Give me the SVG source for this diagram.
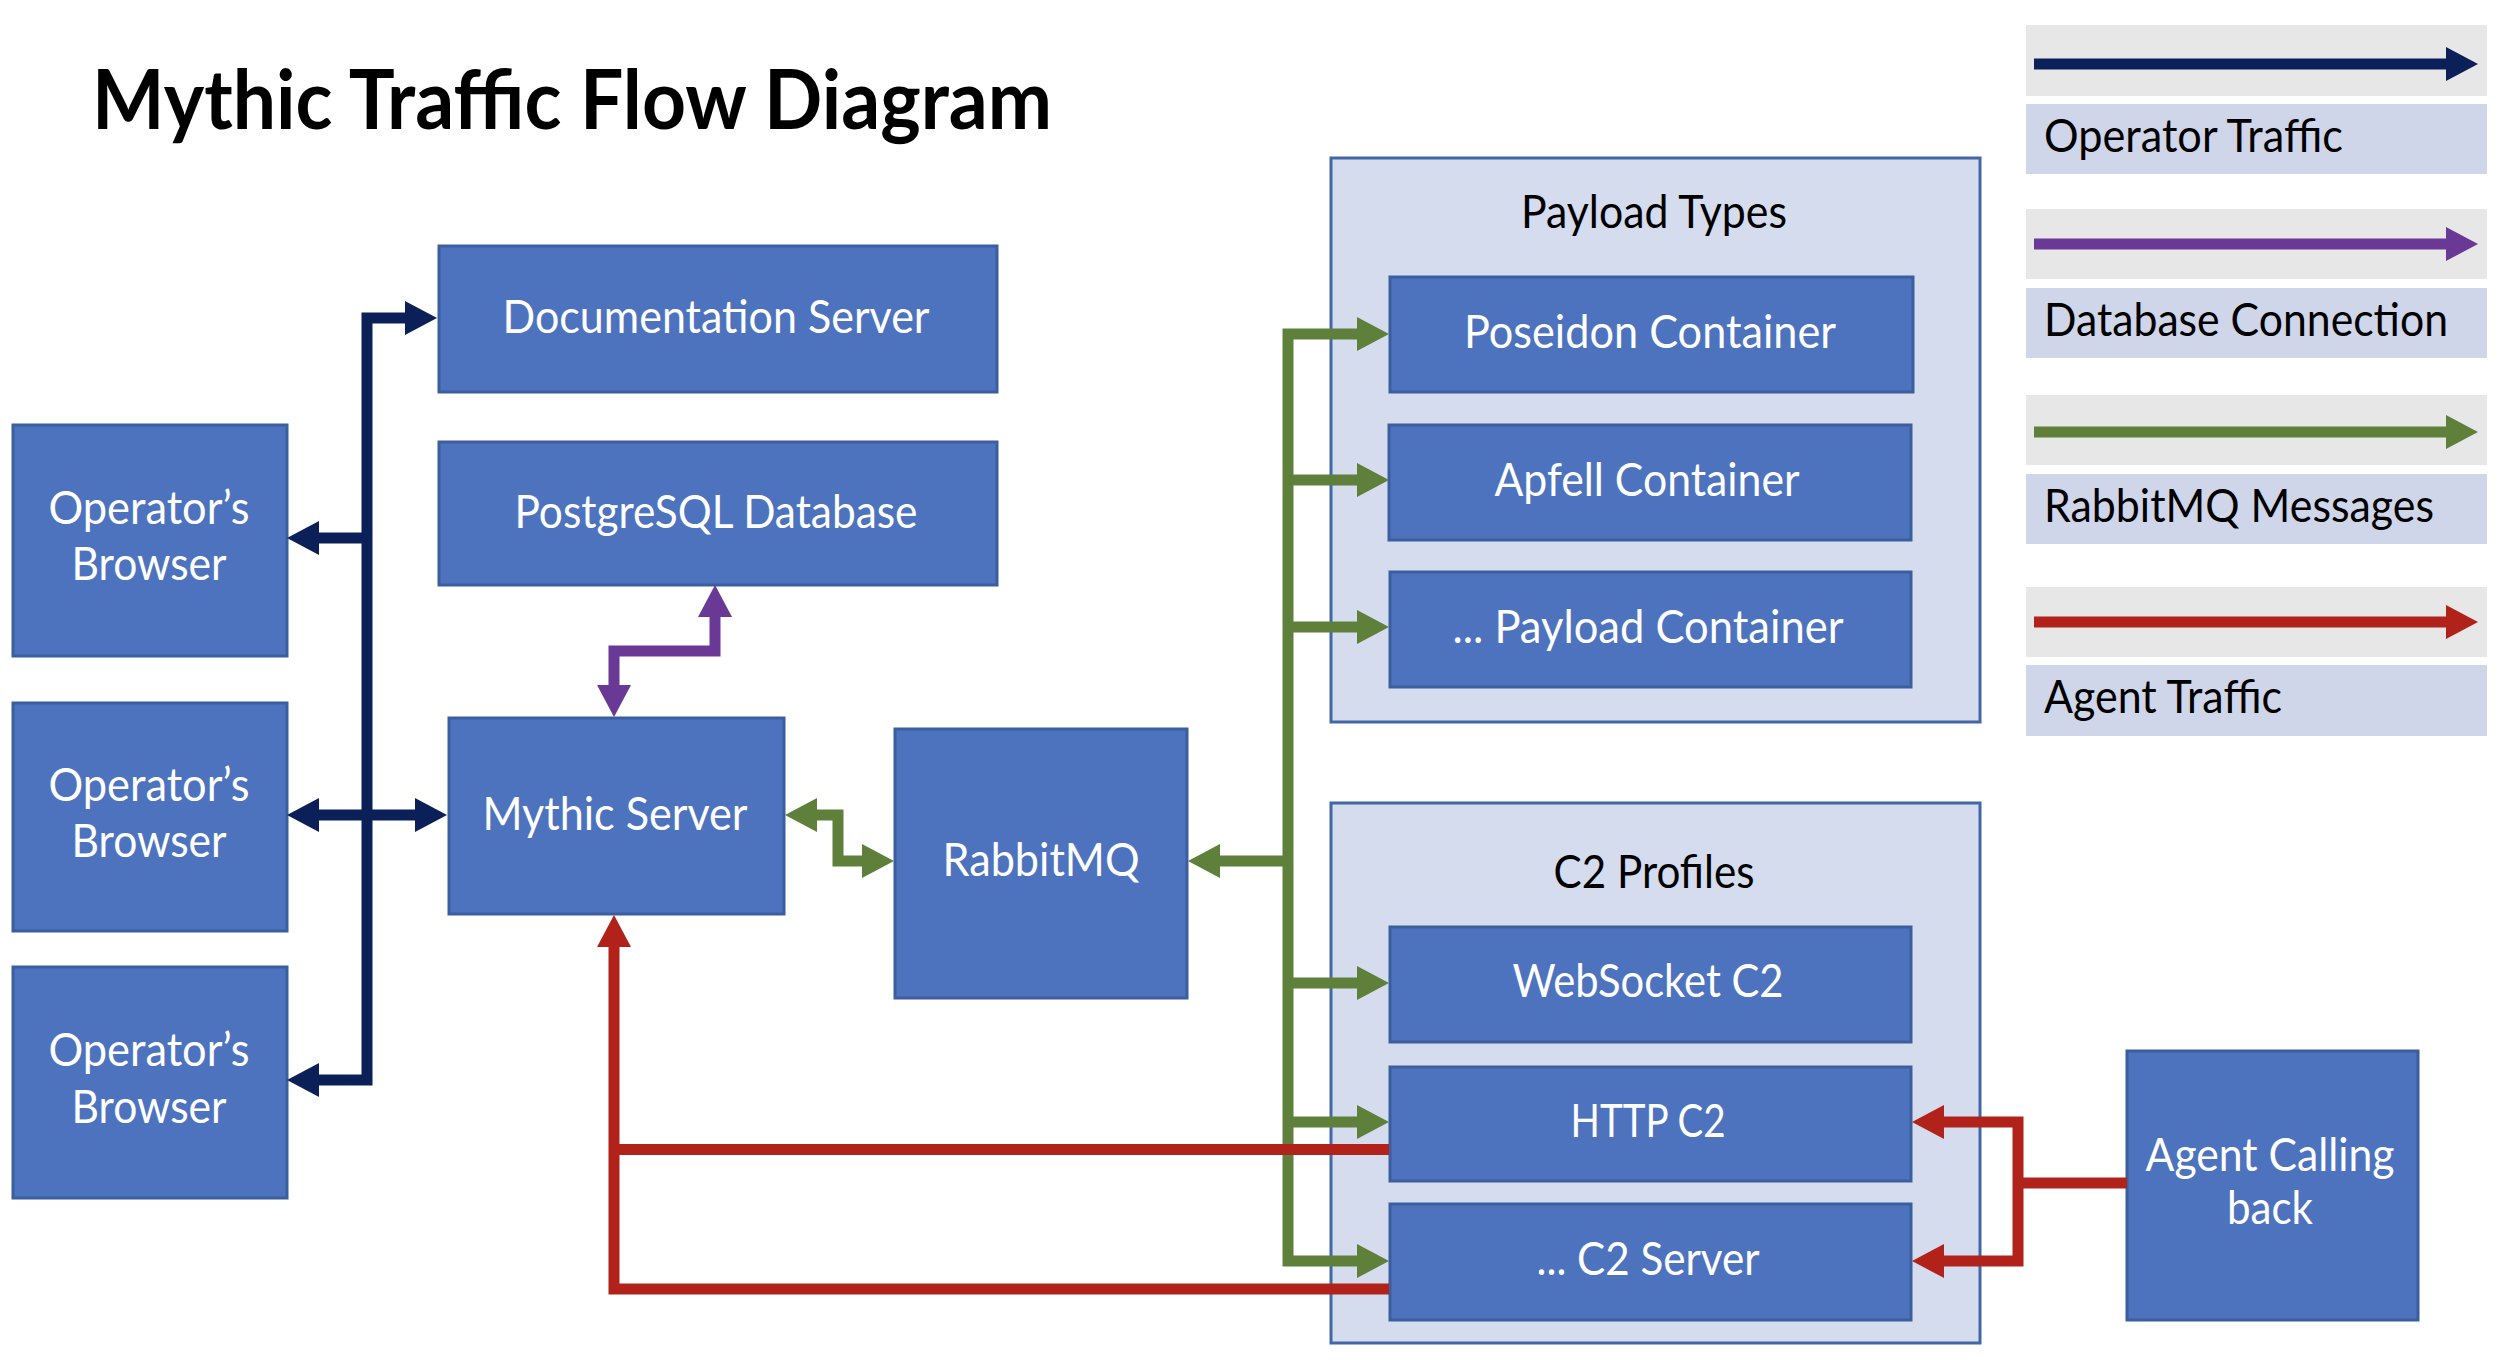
<svg xmlns="http://www.w3.org/2000/svg" width="2502" height="1368" viewBox="0 0 2502 1368">
<style>
.box{fill:#4D73BE;stroke:#3B5E9E;stroke-width:3}
.cont{fill:#D4DCEE;stroke:#4267A8;stroke-width:3}
.lgray{fill:#E7E7E7}
.llab{fill:#D0D6E9}
text{font-family:Lato,"Liberation Sans",sans-serif;font-size:46px}
.w{fill:#FFFFFF;text-anchor:middle}
.k{fill:#000000;text-anchor:middle}
.kl{fill:#000000}
.title{font-size:83px;font-weight:bold;fill:#000000}
.c{fill:none;stroke-width:11;stroke-linejoin:miter;stroke-linecap:butt}
.navy{stroke:#0B2059}
.purple{stroke:#6A3895}
.green{stroke:#5E803B}
.red{stroke:#B0221A}
</style>
<defs>
<marker id="mN" viewBox="0 0 32 34" markerWidth="32" markerHeight="34" markerUnits="userSpaceOnUse" refX="1" refY="17" orient="auto-start-reverse" overflow="visible"><path d="M0,0 L32,17 L0,34 Z" fill="#0B2059"/></marker>
<marker id="mP" viewBox="0 0 32 34" markerWidth="32" markerHeight="34" markerUnits="userSpaceOnUse" refX="1" refY="17" orient="auto-start-reverse" overflow="visible"><path d="M0,0 L32,17 L0,34 Z" fill="#6A3895"/></marker>
<marker id="mG" viewBox="0 0 32 34" markerWidth="32" markerHeight="34" markerUnits="userSpaceOnUse" refX="1" refY="17" orient="auto-start-reverse" overflow="visible"><path d="M0,0 L32,17 L0,34 Z" fill="#5E803B"/></marker>
<marker id="mR" viewBox="0 0 32 34" markerWidth="32" markerHeight="34" markerUnits="userSpaceOnUse" refX="1" refY="17" orient="auto-start-reverse" overflow="visible"><path d="M0,0 L32,17 L0,34 Z" fill="#B0221A"/></marker>
</defs>
<rect width="2502" height="1368" fill="#FFFFFF"/>
<text class="title" x="92" y="129" textLength="960" lengthAdjust="spacingAndGlyphs">Mythic Traffic Flow Diagram</text>

<g id="payload-types">
<rect class="cont" x="1331" y="158" width="649" height="564"/>
<text class="k" x="1654" y="228" textLength="266" lengthAdjust="spacingAndGlyphs">Payload Types</text>
</g>
<g id="c2-profiles">
<rect class="cont" x="1331" y="803" width="649" height="540"/>
<text class="k" x="1654" y="888" textLength="201" lengthAdjust="spacingAndGlyphs">C2 Profiles</text>
</g>

<g id="documentation-server">
<rect class="box" x="439" y="246" width="558" height="146"/>
<text class="w" x="716" y="333" textLength="427" lengthAdjust="spacingAndGlyphs">Documentation Server</text>
</g>
<g id="postgresql-database">
<rect class="box" x="439" y="442" width="558" height="143"/>
<text class="w" x="716" y="528" textLength="403" lengthAdjust="spacingAndGlyphs">PostgreSQL Database</text>
</g>
<g id="operator-browser-1">
<rect class="box" x="13" y="425" width="274" height="231"/>
<text class="w" x="149" y="524" textLength="201" lengthAdjust="spacingAndGlyphs">Operator’s</text>
<text class="w" x="149" y="580" textLength="155" lengthAdjust="spacingAndGlyphs">Browser</text>
</g>
<g id="operator-browser-2">
<rect class="box" x="13" y="703" width="274" height="228"/>
<text class="w" x="149" y="801" textLength="201" lengthAdjust="spacingAndGlyphs">Operator’s</text>
<text class="w" x="149" y="857" textLength="155" lengthAdjust="spacingAndGlyphs">Browser</text>
</g>
<g id="operator-browser-3">
<rect class="box" x="13" y="967" width="274" height="231"/>
<text class="w" x="149" y="1066" textLength="201" lengthAdjust="spacingAndGlyphs">Operator’s</text>
<text class="w" x="149" y="1123" textLength="155" lengthAdjust="spacingAndGlyphs">Browser</text>
</g>
<g id="mythic-server">
<rect class="box" x="449" y="718" width="335" height="196"/>
<text class="w" x="615" y="830" textLength="265" lengthAdjust="spacingAndGlyphs">Mythic Server</text>
</g>
<g id="rabbitmq">
<rect class="box" x="895" y="729" width="292" height="269"/>
<text class="w" x="1041" y="876" textLength="197" lengthAdjust="spacingAndGlyphs">RabbitMQ</text>
</g>
<g id="poseidon-container">
<rect class="box" x="1390" y="277" width="523" height="115"/>
<text class="w" x="1650" y="348" textLength="372" lengthAdjust="spacingAndGlyphs">Poseidon Container</text>
</g>
<g id="apfell-container">
<rect class="box" x="1389" y="425" width="522" height="115"/>
<text class="w" x="1647" y="496" textLength="305" lengthAdjust="spacingAndGlyphs">Apfell Container</text>
</g>
<g id="payload-container">
<rect class="box" x="1390" y="572" width="521" height="115"/>
<text class="w" x="1648" y="643" textLength="391" lengthAdjust="spacingAndGlyphs">... Payload Container</text>
</g>
<g id="websocket-c2">
<rect class="box" x="1390" y="927" width="521" height="115"/>
<text class="w" x="1648" y="997" textLength="271" lengthAdjust="spacingAndGlyphs">WebSocket C2</text>
</g>
<g id="http-c2">
<rect class="box" x="1390" y="1067" width="521" height="114"/>
<text class="w" x="1648" y="1137" textLength="155" lengthAdjust="spacingAndGlyphs">HTTP C2</text>
</g>
<g id="c2-server">
<rect class="box" x="1390" y="1204" width="521" height="116"/>
<text class="w" x="1648" y="1275" textLength="223" lengthAdjust="spacingAndGlyphs">... C2 Server</text>
</g>
<g id="agent-calling-back">
<rect class="box" x="2127" y="1051" width="291" height="269"/>
<text class="w" x="2270" y="1171" textLength="249" lengthAdjust="spacingAndGlyphs">Agent Calling</text>
<text class="w" x="2270" y="1224" textLength="86" lengthAdjust="spacingAndGlyphs">back</text>
</g>

<g id="connectors">
<path class="c green" d="M816,815 L838,815 L838,861 L863,861" marker-start="url(#mG)" marker-end="url(#mG)"/>
<path class="c green" d="M1219,861 L1288,861" marker-start="url(#mG)"/>
<path class="c green" d="M1358,334 L1288,334 L1288,1261 L1358,1261" marker-start="url(#mG)" marker-end="url(#mG)"/>
<path class="c green" d="M1288,480 L1358,480" marker-end="url(#mG)"/>
<path class="c green" d="M1288,627 L1358,627" marker-end="url(#mG)"/>
<path class="c green" d="M1288,983 L1358,983" marker-end="url(#mG)"/>
<path class="c green" d="M1288,1122 L1358,1122" marker-end="url(#mG)"/>
<path class="c navy" d="M318,1080 L367,1080 L367,318 L406,318" marker-start="url(#mN)" marker-end="url(#mN)"/>
<path class="c navy" d="M367,538 L318,538" marker-end="url(#mN)"/>
<path class="c navy" d="M318,815 L416,815" marker-start="url(#mN)" marker-end="url(#mN)"/>
<path class="c purple" d="M614,686 L614,651 L715,651 L715,616" marker-start="url(#mP)" marker-end="url(#mP)"/>
<path class="c red" d="M1389,1289 L614,1289 L614,946" marker-end="url(#mR)"/>
<path class="c red" d="M1389,1149.5 L614,1149.5"/>
<path class="c red" d="M1943,1122 L2018,1122 L2018,1261 L1943,1261" marker-start="url(#mR)" marker-end="url(#mR)"/>
<path class="c red" d="M2127,1183 L2018,1183"/>
</g>

<g id="legend-operator-traffic">
<rect class="lgray" x="2026" y="25" width="461" height="71"/>
<path class="c navy" d="M2034,64 L2447,64" marker-end="url(#mN)"/>
<rect class="llab" x="2026" y="104" width="461" height="70"/>
<text class="kl" x="2044" y="152" textLength="299" lengthAdjust="spacingAndGlyphs">Operator Traffic</text>
</g>
<g id="legend-database-connection">
<rect class="lgray" x="2026" y="209" width="461" height="70"/>
<path class="c purple" d="M2034,244 L2447,244" marker-end="url(#mP)"/>
<rect class="llab" x="2026" y="288" width="461" height="70"/>
<text class="kl" x="2044" y="336" textLength="404" lengthAdjust="spacingAndGlyphs">Database Connection</text>
</g>
<g id="legend-rabbitmq-messages">
<rect class="lgray" x="2026" y="395" width="461" height="70"/>
<path class="c green" d="M2034,432 L2447,432" marker-end="url(#mG)"/>
<rect class="llab" x="2026" y="474" width="461" height="70"/>
<text class="kl" x="2044" y="522" textLength="390" lengthAdjust="spacingAndGlyphs">RabbitMQ Messages</text>
</g>
<g id="legend-agent-traffic">
<rect class="lgray" x="2026" y="587" width="461" height="70"/>
<path class="c red" d="M2034,622 L2447,622" marker-end="url(#mR)"/>
<rect class="llab" x="2026" y="665" width="461" height="71"/>
<text class="kl" x="2044" y="713" textLength="238" lengthAdjust="spacingAndGlyphs">Agent Traffic</text>
</g>
</svg>
